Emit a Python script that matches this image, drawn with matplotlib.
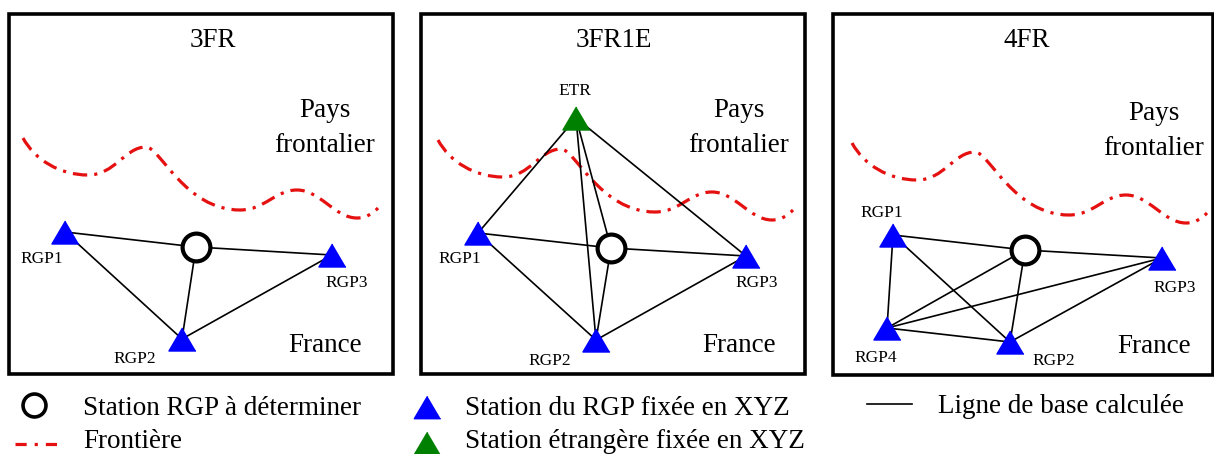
"""
Schéma des configurations de calcul: 3FR, 3FR1E, 4FR.
Coordonnées en pixels de l'image (origine en haut à gauche).
"""
import matplotlib
matplotlib.use("Agg")
import matplotlib.pyplot as plt
from matplotlib.patches import PathPatch, Rectangle
from matplotlib.path import Path

plt.rcParams["font.family"] = ["Liberation Serif", "DejaVu Serif"]

W, H = 1214, 454

# --- data -----------------------------------------------------------------
TITLES = ["3FR", "3FR1E", "4FR"]

# station positions (x, y) per panel
STATIONS_3FR = {"RGP1": (65, 232), "RGP2": (182, 339), "RGP3": (332, 255), "X": (196, 247)}
STATIONS_3FR1E = {"ETR": (576, 118), "RGP1": (478, 233), "RGP2": (596, 340),
                  "RGP3": (746, 256), "X": (611, 248)}
STATIONS_4FR = {"RGP1": (893, 235), "RGP2": (1010, 342), "RGP3": (1162, 258),
                "RGP4": (887, 328), "X": (1025, 250)}

EDGES_3FR = [("RGP1", "X"), ("X", "RGP3"), ("RGP1", "RGP2"), ("X", "RGP2"), ("RGP2", "RGP3")]
EDGES_3FR1E = [("ETR", "RGP1"), ("ETR", "RGP3"), ("ETR", "RGP2"), ("ETR", "X"),
               ("RGP1", "X"), ("X", "RGP3"), ("RGP1", "RGP2"), ("X", "RGP2"), ("RGP2", "RGP3")]
EDGES_4FR = [("RGP1", "X"), ("X", "RGP3"), ("RGP1", "RGP4"), ("RGP1", "RGP2"), ("RGP4", "X"),
             ("RGP4", "RGP3"), ("RGP4", "RGP2"), ("X", "RGP2"), ("RGP2", "RGP3")]

# border (frontière) as cubic Bezier: anchors and control points, panel-local x
BORDER_START = (14, 138)
BORDER_SEGMENTS = [
    ((26, 160), (51, 175), (79, 175)),
    ((106, 175), (116, 147), (137, 147)),
    ((151, 147), (176, 210), (231, 210)),
    ((256, 210), (266, 190), (288, 190)),
    ((311, 190), (326, 218), (348, 218)),
    ((358, 218), (364, 213), (369, 208)),
]

LEGEND_ITEMS = ["Station RGP à déterminer", "Frontière", "Station du RGP fixée en XYZ",
                "Station étrangère fixée en XYZ", "Ligne de base calculée"]

# --- layout ---------------------------------------------------------------
PANELS = [
    dict(box=(9, 13.5, 393, 374), title_x=213, stations=STATIONS_3FR, edges=EDGES_3FR,
         border_off=(9, 0), country_x=325, country_y=(117, 152, 352),
         labels={"RGP1": (42, 263), "RGP2": (135, 363), "RGP3": (347, 287)}),
    dict(box=(421, 13.5, 805, 374), title_x=614, stations=STATIONS_3FR1E, edges=EDGES_3FR1E,
         border_off=(424, 2), country_x=739, country_y=(117, 152, 352),
         labels={"ETR": (575, 95), "RGP1": (460, 263), "RGP2": (550, 365), "RGP3": (757, 287)}),
    dict(box=(833, 13.5, 1213, 375), title_x=1027, stations=STATIONS_4FR, edges=EDGES_4FR,
         border_off=(838, 5), country_x=1154, country_y=(120, 155, 353),
         labels={"RGP1": (882, 217), "RGP2": (1054, 365), "RGP3": (1175, 292), "RGP4": (876, 362)}),
]

BLUE = "#0000ff"
GREEN = "#008000"
RED = "#e51010"
TRI = [(0, 0.85), (-1, -0.85), (1, -0.85)]
BORDER_STYLE = (0, (4.5, 2.2, 1.0, 2.2))
BIG = 19.5
SMALL = 12.5


def border_path(dx, dy):
    verts = [(BORDER_START[0] + dx, BORDER_START[1] + dy)]
    codes = [Path.MOVETO]
    for seg in BORDER_SEGMENTS:
        for (x, y) in seg:
            verts.append((x + dx, y + dy))
            codes.append(Path.CURVE4)
    return Path(verts, codes)


fig = plt.figure(figsize=(W / 100, H / 100), dpi=100)
ax = fig.add_axes([0, 0, 1, 1])
ax.set_xlim(0, W)
ax.set_ylim(H, 0)
ax.axis("off")

for title, p in zip(TITLES, PANELS):
    x0, y0, x1, y1 = p["box"]
    ax.add_patch(Rectangle((x0, y0), x1 - x0, y1 - y0, fill=False, lw=2.6,
                           edgecolor="black", zorder=1))
    ax.text(p["title_x"], 47, title, fontsize=BIG, ha="center", va="baseline")
    cy = p["country_y"]
    ax.text(p["country_x"], cy[0], "Pays", fontsize=BIG, ha="center", va="baseline")
    ax.text(p["country_x"], cy[1], "frontalier", fontsize=BIG, ha="center", va="baseline")
    ax.text(p["country_x"], cy[2], "France", fontsize=BIG, ha="center", va="baseline")

    patch = PathPatch(border_path(*p["border_off"]), fill=False, edgecolor=RED,
                      lw=2.3, zorder=2)
    patch.set_linestyle(BORDER_STYLE)
    ax.add_patch(patch)

    st = p["stations"]
    for a, b in p["edges"]:
        ax.plot([st[a][0], st[b][0]], [st[a][1], st[b][1]], color="black", lw=1.2, zorder=3)
    for name, (x, y) in st.items():
        if name == "X":
            ax.plot(x, y, "o", ms=20, mfc="white", mec="black", mew=3, zorder=4)
        else:
            ax.plot(x, y, marker=TRI, ms=19.5, color=GREEN if name == "ETR" else BLUE,
                    lw=0, zorder=4)
    for name, (lx, ly) in p["labels"].items():
        ax.text(lx, ly, name, fontsize=SMALL, ha="center", va="baseline")

# legend
ax.plot(34, 405, "o", ms=16.5, mfc="white", mec="black", mew=2.6)
ax.text(83, 415, LEGEND_ITEMS[0], fontsize=BIG, va="baseline")
leg_line, = ax.plot([15, 60], [444, 444], color=RED, lw=2.3)
leg_line.set_linestyle((0, (3.5, 2.5, 1.0, 2.5)))
ax.text(83, 448, LEGEND_ITEMS[1], fontsize=BIG, va="baseline")
ax.plot(427, 407, marker=TRI, ms=19, color=BLUE, lw=0)
ax.text(465, 415, LEGEND_ITEMS[2], fontsize=BIG, va="baseline")
ax.plot(427, 443, marker=TRI, ms=19, color=GREEN, lw=0)
ax.text(465, 448, LEGEND_ITEMS[3], fontsize=BIG, va="baseline")
ax.plot([867, 912], [404, 404], color="black", lw=1.2)
ax.text(938, 413, LEGEND_ITEMS[4], fontsize=BIG, va="baseline")

fig.savefig("out.png", dpi=100)
